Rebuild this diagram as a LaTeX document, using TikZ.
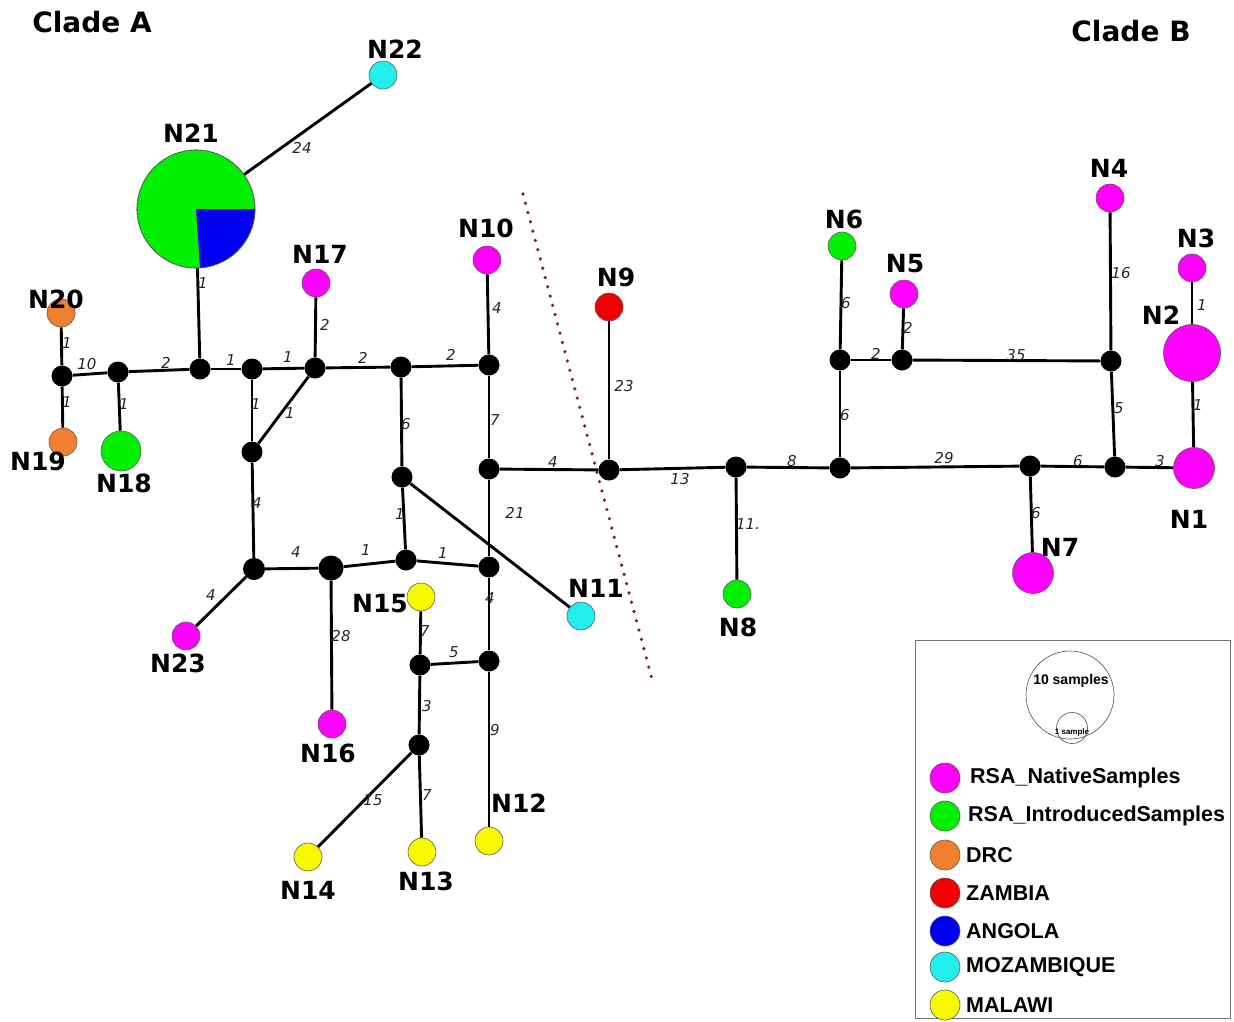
\documentclass[tikz,border=0pt]{standalone}
\usepackage{fontspec}
\setmainfont{DejaVu Sans}
\newfontfamily\legfont{Liberation Sans}
\definecolor{cMag}{HTML}{FF00FF}
\definecolor{cGreen}{HTML}{00F000}
\definecolor{cOrange}{HTML}{F08030}
\definecolor{cRed}{HTML}{F00000}
\definecolor{cBlue}{HTML}{0000F0}
\definecolor{cCyan}{HTML}{22EEEE}
\definecolor{cYellow}{HTML}{F8F800}
\definecolor{cDots}{HTML}{7A1F40}
\begin{document}
\begin{tikzpicture}[x=1pt,y=-1pt,
  hapnode/.style={circle, draw=black!65, line width=0.6pt, inner sep=0pt, minimum size=28pt},
  junc/.style={circle, fill=black, inner sep=0pt, minimum size=21pt},
  edge/.style={line width=2.9pt, black},
  elab/.style={font=\fontsize{15}{15}\selectfont\itshape, text=black!85, inner sep=0pt},
  nlab/.style={font=\fontsize{25}{25}\selectfont\bfseries, inner sep=0pt},
  clab/.style={font=\fontsize{28}{28}\selectfont\bfseries, inner sep=0pt},
  legtxt/.style={font=\legfont\fontsize{21.5}{21.5}\selectfont\bfseries, anchor=west, inner sep=0pt},
  legdot/.style={hapnode, minimum size=30pt}]
\useasboundingbox (0,0) rectangle (1234,1021);

% clade titles
\node[clab] (cladeA) at (92,22) {Clade A};
\node[clab] (cladeB) at (1131,31) {Clade B};

% dotted separator between the clades
\coordinate (sepTop) at (523,194);
\coordinate (sepBot) at (653,683);
\draw[cDots, line width=3.6pt, line cap=round, dash pattern=on 0pt off 9.6pt] (sepTop) -- (sepBot);

% median (unsampled) vectors
\node[junc] (a1) at (62,376) {};
\node[junc] (a2) at (118,372) {};
\node[junc] (a3) at (200,369) {};
\node[junc] (a4) at (252,369) {};
\node[junc] (a5) at (315,368) {};
\node[junc] (a6) at (401,367) {};
\node[junc] (a7) at (489,365) {};
\node[junc] (a8) at (252,452) {};
\node[junc] (a9) at (402,477) {};
\node[junc] (a10) at (489,469) {};
\node[junc, minimum size=22pt] (a11) at (254,569) {};
\node[junc, minimum width=22pt, minimum height=25pt] (a12) at (331,568) {};
\node[junc] (a13) at (406,560) {};
\node[junc] (a14) at (489,567) {};
\node[junc] (a15) at (420,665) {};
\node[junc] (a16) at (489,661) {};
\node[junc] (a17) at (419,745) {};
\node[junc] (b1) at (609,470) {};
\node[junc] (b2) at (736,467) {};
\node[junc] (b3) at (840,468) {};
\node[junc] (b4) at (840,360) {};
\node[junc] (b5) at (902,360) {};
\node[junc] (b6) at (1111,361) {};
\node[junc] (b7) at (1030,466) {};
\node[junc] (b8) at (1115,467) {};

% haplotypes
\node[hapnode, fill=cOrange] (N20) at (61,313) {};
\node[hapnode, fill=cOrange] (N19) at (63,442) {};
\node[hapnode, fill=cGreen, minimum size=40pt] (N18) at (121,451) {};
\node[hapnode, fill=cGreen, minimum size=118pt] (N21) at (196,209) {};
\fill[cBlue] (N21.center) -- ++(59,0) arc[start angle=0, end angle=86, radius=59] -- cycle;
\draw[black!65, line width=0.6pt] (N21.center) circle[radius=59];
\node[hapnode, fill=cCyan] (N22) at (383,75) {};
\node[hapnode, fill=cMag] (N17) at (316,283) {};
\node[hapnode, fill=cMag] (N10) at (487,260) {};
\node[hapnode, fill=cRed] (N9) at (609,307) {};
\node[hapnode, fill=cCyan] (N11) at (581,616) {};
\node[hapnode, fill=cGreen] (N8) at (737,594) {};
\node[hapnode, fill=cMag] (N23) at (186,636) {};
\node[hapnode, fill=cMag] (N16) at (332,724) {};
\node[hapnode, fill=cYellow] (N15) at (421,597) {};
\node[hapnode, fill=cYellow] (N14) at (308,857) {};
\node[hapnode, fill=cYellow] (N13) at (422,852) {};
\node[hapnode, fill=cYellow] (N12) at (489,841) {};
\node[hapnode, fill=cGreen] (N6) at (842,246) {};
\node[hapnode, fill=cMag] (N5) at (904,294) {};
\node[hapnode, fill=cMag] (N4) at (1110,198) {};
\node[hapnode, fill=cMag] (N3) at (1192,268) {};
\node[hapnode, fill=cMag, minimum size=57pt] (N2) at (1192,353) {};
\node[hapnode, fill=cMag, minimum size=41pt] (N1) at (1194,468) {};
\node[hapnode, fill=cMag, minimum size=41pt] (N7) at (1033,573) {};

% connectors
\draw[edge] (N20) -- (a1);
\draw[edge] (a1) -- (N19);
\draw[edge] (a1) -- (a2);
\draw[edge] (a2) -- (N18);
\draw[edge] (a2) -- (a3);
\draw[edge] (a3) -- (N21);
\draw[edge] (N21) -- (N22);
\draw[edge] (a3) -- (a4);
\draw[edge] (a4) -- (a5);
\draw[edge] (a5) -- (N17);
\draw[edge] (a5) -- (a6);
\draw[edge] (a6) -- (a7);
\draw[edge] (a7) -- (N10);
\draw[edge] (a4) -- (a8);
\draw[edge] (a5) -- (a8);
\draw[edge] (a8) -- (a11);
\draw[edge] (a6) -- (a9);
\draw[edge] (a7) -- (a10);
\draw[edge] (a10) -- (b1);
\draw[edge] (a9) -- (a13);
\draw[edge] (a9) -- (N11);
\draw[edge] (a10) -- (a14);
\draw[edge] (a11) -- (a12);
\draw[edge] (a12) -- (a13);
\draw[edge] (a13) -- (a14);
\draw[edge] (a11) -- (N23);
\draw[edge] (a12) -- (N16);
\draw[edge] (a14) -- (a16);
\draw[edge] (N15) -- (a15);
\draw[edge] (a15) -- (a16);
\draw[edge] (a15) -- (a17);
\draw[edge] (a16) -- (N12);
\draw[edge] (a17) -- (N14);
\draw[edge] (a17) -- (N13);
\draw[edge] (b1) -- (N9);
\draw[edge] (b1) -- (b2);
\draw[edge] (b2) -- (N8);
\draw[edge] (b2) -- (b3);
\draw[edge] (b3) -- (b4);
\draw[edge] (b4) -- (N6);
\draw[edge] (b4) -- (b5);
\draw[edge] (b5) -- (N5);
\draw[edge] (b5) -- (b6);
\draw[edge] (b6) -- (N4);
\draw[edge] (b6) -- (b8);
\draw[edge] (b3) -- (b7);
\draw[edge] (b7) -- (b8);
\draw[edge] (b8) -- (N1);
\draw[edge] (b7) -- (N7);
\draw[edge] (N1) -- (N2);
\draw[edge] (N2) -- (N3);

% mutation counts
\node[elab] (m1) at (67,343) {1};
\node[elab] (m2) at (67,402) {1};
\node[elab] (m3) at (87,364) {10};
\node[elab] (m4) at (124,404) {1};
\node[elab] (m5) at (166,363) {2};
\node[elab] (m6) at (203,283) {1};
\node[elab] (m7) at (302,148) {24};
\node[elab] (m8) at (231,360) {1};
\node[elab] (m9) at (288,357) {1};
\node[elab] (m10) at (325,325) {2};
\node[elab] (m11) at (363,358) {2};
\node[elab] (m12) at (451,355) {2};
\node[elab] (m13) at (497,308) {4};
\node[elab] (m14) at (256,404) {1};
\node[elab] (m15) at (290,413) {1};
\node[elab] (m16) at (257,503) {4};
\node[elab] (m17) at (406,424) {6};
\node[elab] (m18) at (495,420) {7};
\node[elab] (m19) at (553,462) {4};
\node[elab] (m20) at (400,514) {1};
\node[elab] (m21) at (515,513) {21};
\node[elab] (m22) at (296,552) {4};
\node[elab] (m23) at (366,550) {1};
\node[elab] (m24) at (443,553) {1};
\node[elab] (m25) at (211,595) {4};
\node[elab] (m26) at (341,636) {28};
\node[elab] (m27) at (490,598) {4};
\node[elab] (m28) at (425,631) {7};
\node[elab] (m29) at (454,652) {5};
\node[elab] (m30) at (427,706) {3};
\node[elab] (m31) at (495,730) {9};
\node[elab] (m32) at (373,800) {15};
\node[elab] (m33) at (427,795) {7};
\node[elab] (m34) at (624,386) {23};
\node[elab] (m35) at (680,479) {13};
\node[elab] (m36) at (748,524) {11.};
\node[elab] (m37) at (792,461) {8};
\node[elab] (m38) at (845,415) {6};
\node[elab] (m39) at (846,303) {6};
\node[elab] (m40) at (876,354) {2};
\node[elab] (m41) at (908,328) {2};
\node[elab] (m42) at (1016,355) {35};
\node[elab] (m43) at (1121,273) {16};
\node[elab] (m44) at (1119,408) {5};
\node[elab] (m45) at (944,458) {29};
\node[elab] (m46) at (1078,461) {6};
\node[elab] (m47) at (1160,461) {3};
\node[elab] (m48) at (1036,513) {6};
\node[elab] (m49) at (1198,405) {1};
\node[elab] (m50) at (1202,305) {1};

% haplotype names
\node[nlab] (tN22) at (395,49) {N22};
\node[nlab] (tN21) at (191,133) {N21};
\node[nlab] (tN17) at (320,254) {N17};
\node[nlab] (tN10) at (486,228) {N10};
\node[nlab] (tN9) at (616,277) {N9};
\node[nlab] (tN20) at (56,299) {N20};
\node[nlab] (tN19) at (38,461) {N19};
\node[nlab] (tN18) at (124,483) {N18};
\node[nlab] (tN23) at (178,663) {N23};
\node[nlab] (tN16) at (328,753) {N16};
\node[nlab] (tN15) at (380,604) {N15};
\node[nlab] (tN14) at (308,890) {N14};
\node[nlab] (tN13) at (426,881) {N13};
\node[nlab] (tN12) at (519,803) {N12};
\node[nlab] (tN11) at (596,588) {N11};
\node[nlab] (tN8) at (738,627) {N8};
\node[nlab] (tN6) at (844,219) {N6};
\node[nlab] (tN5) at (905,264) {N5};
\node[nlab] (tN4) at (1109,168) {N4};
\node[nlab] (tN3) at (1196,238) {N3};
\node[nlab] (tN2) at (1161,315) {N2};
\node[nlab] (tN1) at (1189,519) {N1};
\node[nlab] (tN7) at (1060,547) {N7};

% legend
\node[draw=black!55, line width=0.8pt, minimum width=315pt, minimum height=378pt, inner sep=0pt] (legbox) at (1072.5,829) {};
\node[circle, draw=black!70, line width=0.6pt, minimum size=88pt, inner sep=0pt] (sz10) at (1070,695) {};
\node[circle, draw=black!70, line width=0.6pt, minimum size=31pt, inner sep=0pt] (sz1) at (1072,728) {};
\node[font=\legfont\fontsize{14}{14}\selectfont\bfseries, inner sep=0pt] (t10) at (1071,681) {10 samples};
\node[font=\legfont\fontsize{8}{8}\selectfont\bfseries, inner sep=0pt] (t1) at (1072,732) {1 sample};
\node[legdot, fill=cMag] (k1) at (945,778) {};
\node[legdot, fill=cGreen] (k2) at (945,816) {};
\node[legdot, fill=cOrange] (k3) at (945,855) {};
\node[legdot, fill=cRed] (k4) at (945,893) {};
\node[legdot, fill=cBlue] (k5) at (945,931) {};
\node[legdot, fill=cCyan] (k6) at (945,967) {};
\node[legdot, fill=cYellow] (k7) at (945,1005) {};
\node[legtxt] (k1t) at (970,778) {RSA\_NativeSamples};
\node[legtxt] (k2t) at (968,816) {RSA\_IntroducedSamples};
\node[legtxt] (k3t) at (966,855) {DRC};
\node[legtxt] (k4t) at (966,893) {ZAMBIA};
\node[legtxt] (k5t) at (966,931) {ANGOLA};
\node[legtxt] (k6t) at (966,967) {MOZAMBIQUE};
\node[legtxt] (k7t) at (966,1005) {MALAWI};
\end{tikzpicture}
\end{document}
